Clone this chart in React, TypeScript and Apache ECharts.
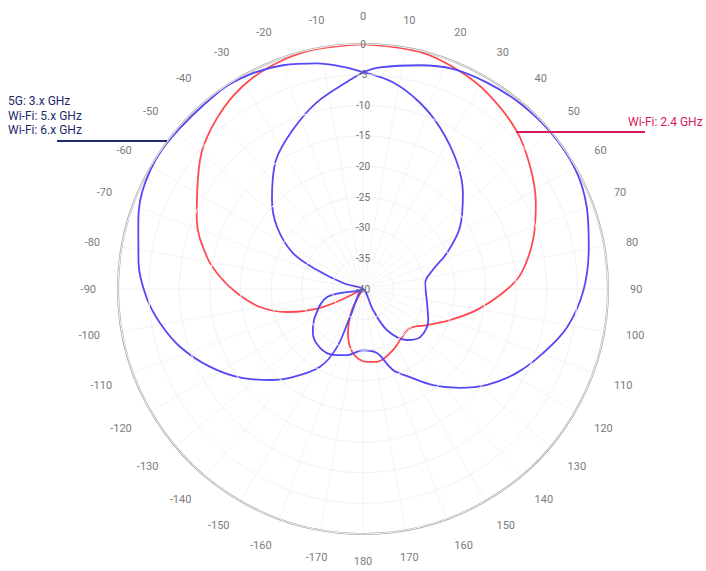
import React, { useEffect, useRef } from "react";
import * as echarts from "echarts";

// [angle in degrees clockwise from top, gain in dB]
const wifi24: number[][] = [
  [0, 0], [13.5, -0.2], [24.1, -1.1], [32.9, -2.2], [44.1, -4.0], [53.9, -6.2],
  [63.6, -8.5], [73.9, -11.1], [84.2, -14.0], [90.4, -16.6], [100.4, -21.1],
  [109.6, -24.9], [119.4, -28.0], [129.7, -30.0], [144, -29.7], [153.8, -28.9],
  [169.1, -27.9], [176.9, -28.1], [188.9, -29.4], [198.8, -32.4], [207.6, -36.1],
  [225, -40], [245.8, -32.8], [253.2, -27.0], [260.1, -22.9], [268.2, -19.4],
  [274.8, -16.6], [281.6, -14.0], [292.6, -10.6], [303.4, -7.7], [311.6, -5.1],
  [322.4, -2.7], [331.6, -1.2], [340.9, -0.4], [349.2, -0.1], [360, 0],
];

const bandA: number[][] = [
  [0, -4.6], [8.2, -5.9], [17, -8.2], [25.8, -10.9], [36.7, -14.3], [46.2, -17.4],
  [57.4, -21.2], [66.8, -25.1], [74.8, -28.2], [84.5, -29.8], [102.3, -29.3],
  [115.5, -28.2], [130.1, -27.8], [139.2, -29.0], [149.7, -32.2], [154.5, -36.2],
  [180, -40], [204.9, -35.0], [204.1, -29.6], [208.9, -25.5], [219.4, -21.2],
  [224.7, -19.1], [233.4, -15.6], [243, -12.0], [252.4, -8.7], [260.5, -6.4],
  [267.9, -4.6], [276.7, -3.1], [287.2, -1.6], [296.4, -0.4], [307, -0.1],
  [324.3, -0.1], [332.4, -0.4], [340.3, -1.2], [348.5, -2.4], [354.9, -3.6], [360, -4.6],
];

const bandB: number[][] = [
  [0, -4.6], [4.4, -3.7], [14.3, -2.3], [22.2, -1.2], [31, -0.7], [40.2, -0.3],
  [50.1, -0.1], [60.3, -0.2], [69.9, -1.1], [79.4, -2.5], [90.3, -4.0],
  [100.6, -6.1], [109.6, -8.8], [118.6, -11.4], [127.7, -14.4], [135.6, -17.4],
  [143.9, -20.6], [151.9, -23.7], [159.7, -25.9], [167.7, -29.3], [180, -30.0],
  [193.6, -28.9], [204.4, -28.2], [216.1, -28.1], [228.7, -29.1], [239.7, -30.9],
  [257.5, -34.0], [270, -40], [286.7, -36.6], [292.4, -31.9], [297.2, -27.1],
  [305.8, -22.7], [314.4, -19.2], [325.7, -14.7], [336.2, -11.6], [346.1, -8.6],
  [356.4, -5.8], [360, -4.6],
];

const radiusMin = -40;
const radiusMax = 0;
const radiusStep = 5;
const angleStep = 10;

const legendLeft = ["5G: 3.x GHz", "Wi-Fi: 5.x GHz", "Wi-Fi: 6.x GHz"];
const legendRight = "Wi-Fi: 2.4 GHz";

const RED = "#ff4a4f";
const BLUE = "#5548f5";
const NAVY = "#1d2a6b";
const CRIMSON = "#d81b5c";

const toSeries = (pts: number[][]) => pts.map(([a, db]) => [db, a]);

export default function App() {
  const ref = useRef<HTMLDivElement>(null);
  useEffect(() => {
    if (!ref.current) return;
    const chart = echarts.init(ref.current, null, { renderer: "svg" });
    const font = "Roboto, 'Noto Sans', sans-serif";
    const line = (name: string, pts: number[][], color: string, z: number) => ({
      name,
      type: "line",
      coordinateSystem: "polar",
      data: toSeries(pts),
      smooth: 0.35,
      symbol: "none",
      lineStyle: { color, width: 1.8 },
      z,
    });
    chart.setOption({
      animation: false,
      backgroundColor: "#ffffff",
      polar: { center: [363, 289], radius: 245 },
      angleAxis: {
        type: "value",
        min: 0,
        max: 360,
        interval: angleStep,
        startAngle: 90,
        clockwise: true,
        axisLine: { show: true, lineStyle: { color: "#a3a3a3", width: 2 } },
        axisTick: { show: false },
        axisLabel: {
          margin: 22,
          color: "#7c7c7c",
          fontSize: 11,
          fontFamily: font,
          formatter: (v: number) => (v >= 360 ? "" : String(v > 180 ? v - 360 : v)),
        },
        splitLine: { show: true, lineStyle: { color: "#f4f4f4", width: 1 } },
      },
      radiusAxis: {
        type: "value",
        min: radiusMin,
        max: radiusMax,
        interval: radiusStep,
        axisLine: { show: false },
        axisTick: { show: false },
        axisLabel: {
          margin: 0,
          align: "center",
          verticalAlign: "middle",
          color: "#707070",
          fontSize: 10,
          fontFamily: font,
        },
        splitLine: { show: true, lineStyle: { color: "#f2f2f2", width: 1 } },
        z: 5,
      },
      series: [
        line(legendRight, wifi24, RED, 3),
        line("Band A", bandA, BLUE, 4),
        line("Band B", bandB, BLUE, 4),
      ],
      graphic: [
        ...legendLeft.map((t, i) => ({
          type: "text",
          left: 8,
          top: 95 + i * 14.5,
          style: { text: t, fill: NAVY, font: `12px ${font}` },
          z: 10,
        })),
        {
          type: "line",
          shape: { x1: 57, y1: 141, x2: 167, y2: 141 },
          style: { stroke: NAVY, lineWidth: 2 },
          z: 10,
        },
        {
          type: "text",
          left: 628,
          top: 116,
          style: { text: legendRight, fill: CRIMSON, font: `12px ${font}` },
          z: 10,
        },
        {
          type: "line",
          shape: { x1: 516, y1: 132, x2: 645, y2: 132 },
          style: { stroke: CRIMSON, lineWidth: 2 },
          z: 10,
        },
      ],
    });
    return () => chart.dispose();
  }, []);
  return (
    <div
      ref={ref}
      style={{ position: "absolute", left: 0, top: 0, width: 706, height: 571 }}
    />
  );
}
